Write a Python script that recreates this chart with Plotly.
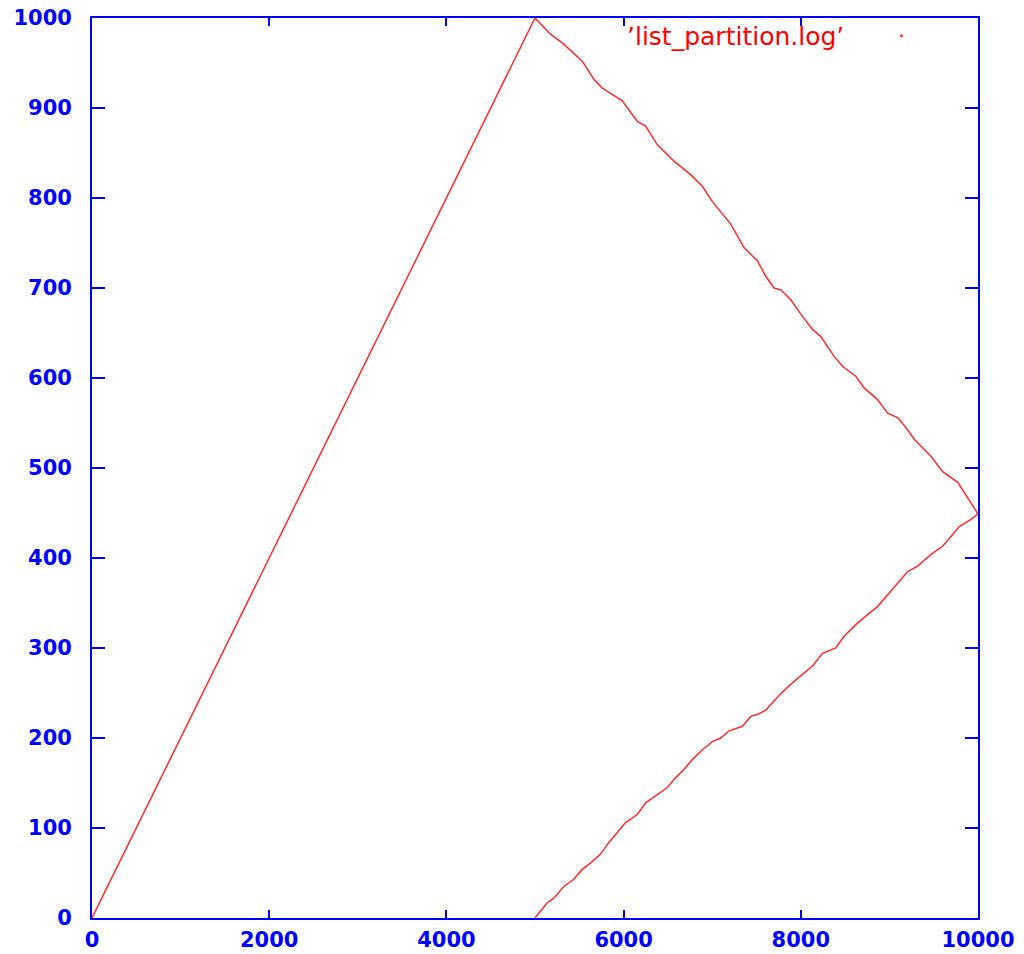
import plotly.graph_objects as go

# Rising run: partition size grows linearly up to the pivot
ramp_x = [0, 1000, 2000, 3000, 4000, 5000]
ramp_y = [0, 200, 400, 600, 800, 1000]

# Upper branch after the pivot, falling towards the right edge
upper_x = [5000, 5175, 5325, 5533, 5664, 5759, 5985, 6155, 6249, 6381, 6568, 6757,
           6889, 7002, 7209, 7359, 7511, 7605, 7698, 7774, 7887, 8000, 8132, 8226,
           8376, 8471, 8621, 8715, 8866, 8980, 9093, 9186, 9280, 9469, 9601, 9771,
           9921, 10000]
upper_y = [1000, 982, 971, 952, 932, 922, 908, 885, 880, 859, 841, 826,
           813, 796, 771, 745, 730, 713, 700, 698, 687, 671, 654, 646,
           624, 613, 602, 589, 576, 561, 556, 545, 532, 513, 496, 484,
           461, 449]

# Lower branch after the pivot, rising from zero to meet the upper branch
lower_x = [5000, 5138, 5212, 5325, 5438, 5533, 5627, 5740, 5834, 5929, 6023, 6155,
           6249, 6342, 6494, 6588, 6681, 6776, 6889, 7002, 7096, 7190, 7341, 7435,
           7529, 7605, 7698, 7793, 7924, 8132, 8245, 8395, 8489, 8621, 8754, 8866,
           8980, 9093, 9206, 9319, 9469, 9601, 9695, 9789, 9921, 10000]
lower_y = [0, 17, 22, 35, 43, 54, 61, 71, 84, 95, 106, 115,
           128, 134, 145, 156, 165, 176, 187, 196, 200, 208, 213, 224,
           227, 231, 241, 251, 263, 280, 294, 300, 313, 326, 337, 346,
           358, 372, 385, 391, 404, 413, 424, 435, 443, 449]

x_ticks = [0, 2000, 4000, 6000, 8000, 10000]
y_ticks = [0, 100, 200, 300, 400, 500, 600, 700, 800, 900, 1000]

BLUE = "#0000ff"
RED = "#ff2a2a"

# One continuous path: up the ramp, down the upper branch, back along the lower one
path_x = ramp_x + upper_x[1:] + lower_x[::-1][1:]
path_y = ramp_y + upper_y[1:] + lower_y[::-1][1:]

fig = go.Figure()
fig.add_trace(go.Scatter(
    x=path_x, y=path_y, mode="lines",
    line=dict(color=RED, width=1.5),
    name="'list_partition.log'", showlegend=False,
))

tick_font = dict(family="DejaVu Sans", size=21, color=BLUE, weight="bold")

fig.update_layout(
    width=1024, height=954,
    margin=dict(l=92, r=46, t=18, b=36, autoexpand=False),
    paper_bgcolor="white", plot_bgcolor="white",
    showlegend=False,
    xaxis=dict(
        range=[0, 10000], tickvals=x_ticks, ticktext=[str(v) for v in x_ticks],
        showgrid=False, zeroline=False, automargin=False,
        showline=True, linecolor=BLUE, linewidth=1.8, mirror="ticks",
        ticks="inside", ticklen=8, tickwidth=1.6, tickcolor=BLUE,
        tickfont=tick_font, ticklabelstandoff=2,
    ),
    yaxis=dict(
        range=[0, 1000], tickvals=y_ticks, ticktext=[str(v) for v in y_ticks],
        showgrid=False, zeroline=False, automargin=False,
        showline=True, linecolor=BLUE, linewidth=1.8, mirror="ticks",
        ticks="inside", ticklen=13, tickwidth=1.6, tickcolor=BLUE,
        tickfont=tick_font, ticklabelstandoff=14,
    ),
)

# Key entry: file name with a tiny point sample beside it
fig.add_annotation(
    xref="paper", yref="paper", x=0.851, y=0.980,
    xanchor="right", yanchor="middle", showarrow=False,
    text="\u2019list_partition.log\u2019",
    font=dict(family="DejaVu Sans", size=25, color="#ff0000"),
)
fig.add_shape(
    type="circle", xref="paper", yref="paper",
    x0=0.9122, x1=0.9148, y0=0.9790, y1=0.9816,
    line=dict(color=RED, width=0.8), fillcolor=RED,
)

fig.write_html("out.html")
